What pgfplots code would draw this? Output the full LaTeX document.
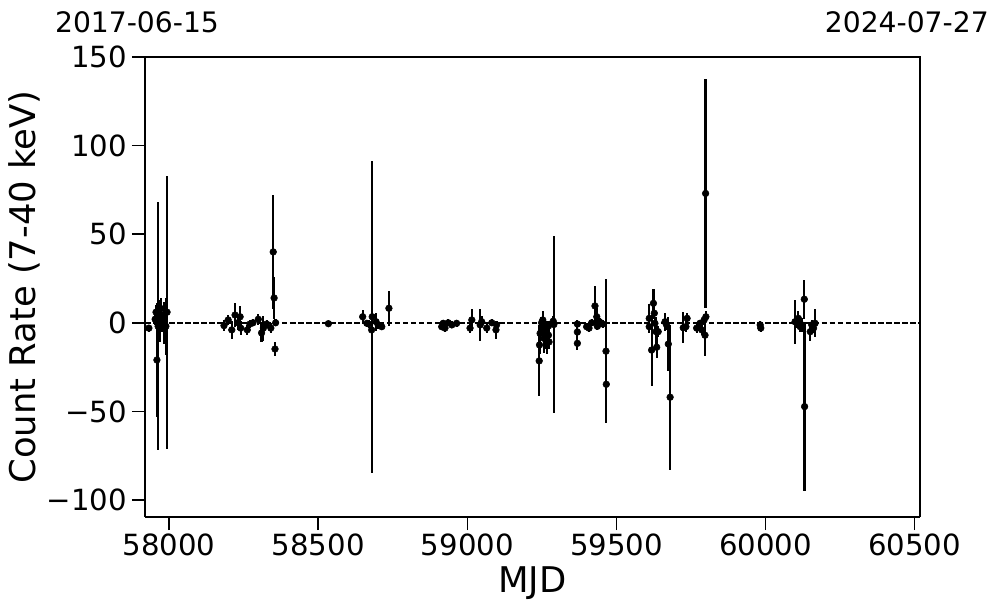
\documentclass[border=0pt]{standalone}
\usepackage{pgfplots}
\pgfplotsset{compat=1.18}
\usepackage{pgfplotstable}
\usepackage{fontspec}
\setmainfont{DejaVu Sans}
\pgfplotstableread{
x y e
57932 -3 2
57953 2 3
57956 6 4
57959 -21 32
57963 -2 70
57966 5 8
57969 -1 10
57973 8 6
57976 0 5
57979 2 4
57983 0 12
57989 -2 16
57993 6 77
58184 -1.6 3
58198 1.6 3
58210 -4 5
58221 4.4 7
58230 0 4
58238 3.4 6
58240 -3 4
58262 -4 3
58271 -0.7 2
58281 0 2
58299 2 3
58310 -5.7 5
58316 -3 7
58327 -0.7 2
58341 -3 3
58349 40 32
58352 14 12
58355 -14.8 4
58357 0 2
58534 -0.5 1
58649 3.4 4
58663 -0.3 2
58670 -0.7 2
58679 -4 3
58681 3.4 88
58694 0.6 5
58701 -1.3 2
58713 -2.2 2
58737 8.2 10
58914 -2.2 2
58919 -0.3 2
58925 -3 2
58936 0 2
58948 -1.2 2
58964 -0.3 2
59009 -3 3
59015 1.6 6
59043 -1.2 9
59048 0.6 3
59065 -3 3
59082 0 2
59096 -4 5
59098 -1.2 2
59241 -21.5 20
59242 -12.5 5
59244 -6 4
59249 0 3
59253 1.6 5
59255 -4 4
59257 -8.8 8
59261 -2 3
59264 -7 8
59266 -11.6 6
59272 -7 4
59272 -1.8 3
59274 -10.8 4
59288 0.9 3
59290 -1 49.7
59369 -0.7 2
59369 -5.2 2
59369 -11.6 4
59400 -2.2 2
59408 -3 2
59417 0 2
59428 9.5 11
59434 3.4 5
59436 -2 2
59443 0.6 2
59454 -0.7 2
59465 -16 40.6
59466 -34.7 3
59610 2.5 8
59610 -2.2 3
59618 -15.4 20
59624 11 8
59627 5.4 3
59629 -0.3 3
59633 -5 8
59635 -13.8 6
59640 -5 3
59663 0.6 5
59668 -1.2 3
59674 -12 15
59680 -42 41
59724 -2.8 8.8
59733 -2.2 3
59737 2.5 3
59769 -3 3
59780 -0.3 2
59786 -4 3
59794 1.6 3
59797 -7 12
59799 73 64.5
59800 3.4 3
59982 -1.2 2
59984 -3 2
60099 0.6 12.5
60105 0 3
60110 2.5 4
60116 -2.2 3
60122 -1.2 4
60130 13.3 11
60131 -47.3 47.5
60150 -5 5
60155 -1.2 3
60161 -3 3
60166 -0.3 8
}\datatable
\begin{document}
\begin{tikzpicture}
\useasboundingbox (-104.4pt,-69.12pt) rectangle (613.44pt,372.24pt);
\begin{axis}[
  at={(0,0)}, anchor=south west,
  scale only axis,
  width=558pt, height=331.2pt,
  xmin=57919, xmax=60518,
  ymin=-109.6, ymax=150,
  xtick={58000,58500,59000,59500,60000,60500},
  ytick={-100,-50,0,50,100,150},
  yticklabels={−100,−50,0,50,100,150},
  scaled x ticks=false,
  xticklabel style={/pgf/number format/1000 sep={}},
  /pgf/number format/assume math mode=true,
  ticklabel style={font=\fontsize{21}{24}\selectfont},
  xticklabel style={yshift=1pt},
  tick align=outside,
  axis x line*=bottom,
  axis y line*=left,
  major tick length=9.4pt,
  every tick/.style={black, line width=1.1pt},
  axis line style={line width=0.8pt},
  xlabel={MJD},
  ylabel={Count Rate (7-40 keV)},
  label style={font=\fontsize{25.5}{29}\selectfont},
  xlabel style={at={(axis description cs:0.5,-0.1435)}, anchor=center},
  ylabel style={at={(axis description cs:-0.155,0.5)}, anchor=center, rotate=0},
  clip mode=individual,
]
\addplot[black, dash pattern=on 4pt off 1.8pt, line width=1.05pt, forget plot] coordinates {(57919,0) (60518,0)};
\addplot[only marks, mark=*, mark size=2.4pt, black,
  error bars/.cd, y dir=both, y explicit, error mark=none,
  error bar style={line width=1.6pt, black}]
  table[x=x, y=y, y error=e] {\datatable};
\draw[line width=0.8pt] (rel axis cs:0,1) -- (rel axis cs:1,1) -- (rel axis cs:1,0);
\node[font=\fontsize{20.3}{23}\selectfont] at (axis description cs:-0.0103,1.076) {2017-06-15};
\node[font=\fontsize{20.3}{23}\selectfont] at (axis description cs:0.983,1.076) {2024-07-27};
\end{axis}
\end{tikzpicture}
\end{document}
